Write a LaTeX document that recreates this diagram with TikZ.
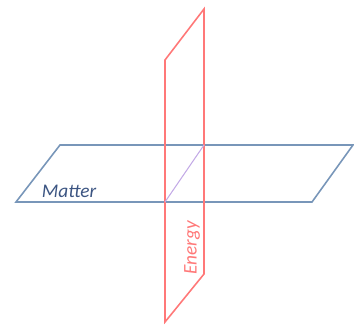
\documentclass[tikz,border=0pt]{standalone}
\usepackage{fontspec}
\setmainfont{Carlito}
\definecolor{matterblue}{RGB}{120,150,185}
\definecolor{mattertext}{RGB}{60,85,130}
\definecolor{energyred}{RGB}{255,120,120}
\definecolor{crosspurple}{RGB}{195,170,230}

\begin{document}
\begin{tikzpicture}[x=0.02cm, y=-0.02cm,
  matterplane/.style={draw=matterblue, line width=0.9pt, line join=miter},
  energyplane/.style={draw=energyred, line width=0.9pt, line join=miter},
  crossline/.style={draw=crosspurple, line width=0.6pt},
  mattertitle/.style={font=\itshape\fontsize{11}{13}\selectfont, text=mattertext, inner sep=0pt},
  energytitle/.style={font=\itshape\fontsize{11}{13}\selectfont, text=energyred, inner sep=0pt, rotate=90}
]

\useasboundingbox (0,0) rectangle (354,324);

% matter plane
\coordinate (m1) at (16,202);
\coordinate (m2) at (312,202);
\coordinate (m3) at (353,145);
\coordinate (m4) at (60,145);

% energy plane
\coordinate (e1) at (165,60);
\coordinate (e2) at (204,9);
\coordinate (e3) at (204,274);
\coordinate (e4) at (165,322);

\draw[matterplane] (m1) -- (m2) -- (m3) -- (m4) -- cycle;
\draw[energyplane] (e1) -- (e2) -- (e3) -- (e4) -- cycle;

\coordinate (c1) at (165,202);
\coordinate (c2) at (204,145);
\draw[crossline] (c1) -- (c2);

\node[mattertitle] (matter) at (69,191) {Matter};
\node[energytitle] (energy) at (192,248) {Energy};

\end{tikzpicture}
\end{document}
